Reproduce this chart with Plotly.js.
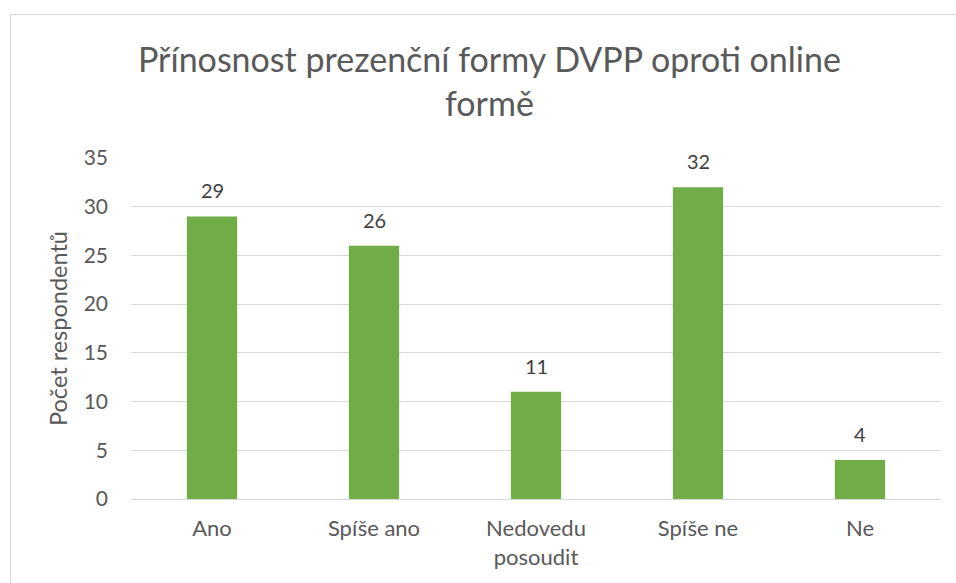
<!DOCTYPE html>
<html><head><meta charset="utf-8">
<script src="https://cdn.plot.ly/plotly-3.0.1.min.js"></script>
<style>
html,body{margin:0;padding:0;width:956px;height:583px;overflow:hidden;background:#fff;}
#frame{position:absolute;left:10px;top:14px;width:1000px;height:700px;border:1px solid #d9d9d9;box-sizing:border-box;}
#chart{position:absolute;left:0;top:0;width:956px;height:583px;}
</style></head>
<body>
<div id="frame"></div>
<div id="chart"></div>
<script>
const categories = ["Ano", "Spíše ano", "Nedovedu<br>posoudit", "Spíše ne", "Ne"];
const values = [29, 26, 11, 32, 4];
const yTicks = [0, 5, 10, 15, 20, 25, 30, 35];
const titleText = "Přínosnost prezenční formy DVPP oproti online<br>formě";
const yTitle = "Počet respondentů";

const font = "Lato, 'Open Sans', sans-serif";
const labelAnns = categories.map((c, i) => ({
  x: c, y: values[i], xref: 'x', yref: 'y', text: String(values[i]),
  showarrow: false, yanchor: 'bottom', yshift: 12,
  font: {family: font, size: 20, color: '#404040'}
}));
Plotly.newPlot('chart', [{
  type: 'bar', x: categories, y: values,
  marker: {color: '#70AD47'},
  hoverinfo: 'none'
}], {
  width: 956, height: 583,
  paper_bgcolor: 'rgba(0,0,0,0)', plot_bgcolor: 'rgba(0,0,0,0)',
  margin: {l: 131, r: 15, t: 158, b: 84},
  bargap: 0.69,
  showlegend: false,
  font: {family: font, color: '#595959'},
  annotations: labelAnns.concat([{
    text: titleText, xref: 'paper', yref: 'paper', x: (489 - 131) / 810, y: (499 - 81) / 341,
    xanchor: 'center', yanchor: 'middle', showarrow: false,
    font: {family: font, size: 34, color: '#595959'}
  }]),
  xaxis: {tickfont: {family: font, size: 22, color: '#595959'}, showline: true, linecolor: '#d9d9d9', linewidth: 1,
          ticks: '', showgrid: false, ticklabelstandoff: 10},
  yaxis: {range: [0, 35], tickvals: yTicks, ticktext: yTicks.map(String), showgrid: true, gridcolor: '#d9d9d9', gridwidth: 1,
          zeroline: false, ticks: '', ticklabelstandoff: 22,
          tickfont: {family: font, size: 21, color: '#595959'},
          title: {text: yTitle, font: {family: font, size: 23.5, color: '#595959'}, standoff: 9}}
}, {staticPlot: true});
</script>
</body></html>
